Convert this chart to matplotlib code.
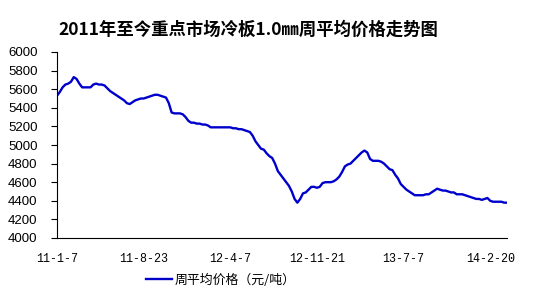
import numpy as np
import matplotlib
matplotlib.use("Agg")
import matplotlib.pyplot as plt
import matplotlib.transforms as mtransforms

# weekly average price (yuan/ton)
prices = [
    5530, 5570, 5620, 5650, 5660, 5680, 5730, 5710, 5660, 5620,
    5620, 5620, 5620, 5650, 5660, 5650, 5650, 5640, 5610, 5580,
    5560, 5540, 5520, 5500, 5480, 5450, 5440, 5460, 5480, 5490,
    5500, 5500, 5510, 5520, 5530, 5540, 5540, 5530, 5520, 5510,
    5450, 5350, 5340, 5340, 5340, 5330, 5300, 5260, 5240, 5240,
    5230, 5230, 5220, 5220, 5210, 5190, 5190, 5190, 5190, 5190,
    5190, 5190, 5190, 5180, 5180, 5170, 5170, 5160, 5150, 5140,
    5100, 5040, 5000, 4960, 4950, 4910, 4880, 4860, 4800, 4720,
    4680, 4640, 4600, 4560, 4500, 4420, 4380, 4420, 4480, 4490,
    4520, 4550, 4550, 4540, 4550, 4590, 4600, 4600, 4600, 4610,
    4630, 4660, 4710, 4770, 4790, 4800, 4830, 4860, 4890, 4920,
    4940, 4920, 4850, 4830, 4830, 4830, 4820, 4800, 4770, 4740,
    4730, 4680, 4640, 4580, 4550, 4520, 4500, 4480, 4460, 4460,
    4460, 4460, 4470, 4470, 4490, 4510, 4530, 4520, 4510, 4510,
    4500, 4490, 4490, 4470, 4470, 4470, 4460, 4450, 4440, 4430,
    4420, 4420, 4410, 4420, 4430, 4400, 4390, 4390, 4390, 4390,
    4380, 4380,
]
tick_idx = [0, 31, 62, 93, 124, 155]
tick_labels = ["11-1-7", "11-8-23", "12-4-7", "12-11-21", "13-7-7", "14-2-20"]
y_ticks = list(range(4000, 6001, 200))

title = "2011年至今重点市场冷板1.0㎜周平均价格走势图"
series_name = "周平均价格（元/吨）"

cjk = ["Noto Sans CJK SC", "DejaVu Sans"]

fig = plt.figure(figsize=(5.44, 2.93), dpi=100)
ax = fig.add_axes([57 / 544, 55 / 293, 450 / 544, 186 / 293])

x = np.arange(len(prices))
ax.plot(x, prices, color="#0000cc", lw=1.7, label=series_name)

ax.set_xlim(0, len(prices) - 1)
ax.set_ylim(4000, 6000)
ax.set_yticks(y_ticks)
ax.set_xticks(tick_idx)
ax.set_xticklabels(tick_labels, family="Liberation Mono", fontsize=8.4)
# labels sit a few pixels left of their category in the original
shift = mtransforms.ScaledTranslation(-0.03, 0, fig.dpi_scale_trans)
for t in ax.get_xticklabels():
    t.set_transform(t.get_transform() + shift)
for t in ax.get_yticklabels():
    t.set_family("Liberation Sans")
    t.set_fontsize(9.5)
ax.tick_params(axis="y", direction="out", length=4, width=0.8, pad=10)
ax.tick_params(axis="x", length=0, pad=11)

ax.spines["top"].set_visible(False)
ax.spines["right"].set_visible(False)
ax.spines["left"].set_linewidth(0.8)
ax.spines["bottom"].set_linewidth(0.8)

fig.text(248 / 544, 1 - 30 / 293, title, ha="center", va="center",
         fontsize=12.5, fontweight="bold", family=cjk)

leg = fig.legend(loc="center", bbox_to_anchor=(221 / 544, 13 / 293),
                 frameon=False, handlelength=2.0, handletextpad=0.2,
                 prop={"family": cjk, "size": 9.3})

fig.savefig("out.png", dpi=100, facecolor="white")
